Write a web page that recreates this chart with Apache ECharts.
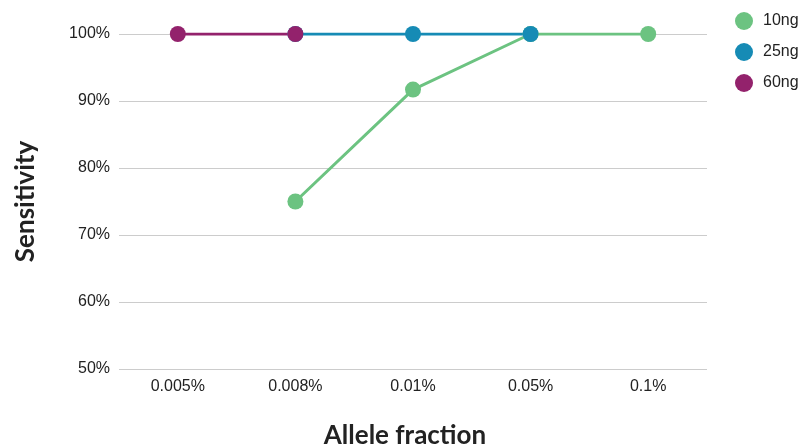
<!DOCTYPE html>
<html><head><meta charset="utf-8">
<script src="https://cdn.jsdelivr.net/npm/echarts@6/dist/echarts.min.js"></script>
<style>html,body{margin:0;padding:0;background:#fff}#c{width:803px;height:448px}</style>
</head><body><div id="c"></div>
<script>
const categories = ['0.005%', '0.008%', '0.01%', '0.05%', '0.1%'];
const s10ng = [null, 75, 91.7, 100, 100];
const s25ng = [null, 100, 100, 100, null];
const s60ng = [100, 100, null, null, null];
const seriesNames = ['10ng', '25ng', '60ng'];
const colors = ['#6cc381', '#168bb5', '#93226c'];

const chart = echarts.init(document.getElementById('c'), null, {renderer: 'canvas'});
const mk = (name, data, color) => ({
  name, type: 'line', data, color,
  symbol: 'circle', symbolSize: 16,
  lineStyle: {width: 3, color},
  itemStyle: {color},
  connectNulls: false,
  animation: false
});
chart.setOption({
  animation: false,
  grid: {left: 119, right: 96, top: 34, bottom: 79, outerBoundsMode: 'none', containLabel: false},
  legend: {
    orient: 'vertical', left: 735, top: 12, padding: 0,
    icon: 'circle', itemWidth: 18, itemHeight: 18, itemGap: 13,
    data: seriesNames,
    textStyle: {fontFamily: 'Liberation Sans', fontSize: 16, color: '#222', padding: [0, 0, 0, 5]}
  },
  xAxis: {
    type: 'category', data: categories, boundaryGap: true,
    name: 'Allele fraction', nameLocation: 'middle', nameGap: 54,
    nameTextStyle: {fontFamily: 'Lato', fontWeight: 'bold', fontSize: 26, color: '#222', padding: [0, 16, 0, 0]},
    axisLine: {show: false}, axisTick: {show: false},
    axisLabel: {fontFamily: 'Liberation Sans', fontSize: 16, color: '#222', margin: 10}
  },
  yAxis: {
    type: 'value', min: 50, max: 100, interval: 10,
    name: 'Sensitivity', nameLocation: 'middle', nameGap: 80, nameRotate: 90,
    nameTextStyle: {fontFamily: 'Lato', fontWeight: 'bold', fontSize: 26, color: '#222'},
    axisLabel: {formatter: '{value}%', fontFamily: 'Liberation Sans', fontSize: 16, color: '#222', margin: 9},
    splitLine: {lineStyle: {color: '#cccccc', width: 1}},
    axisLine: {show: false}, axisTick: {show: false}
  },
  series: [
    mk('10ng', s10ng, colors[0]),
    mk('25ng', s25ng, colors[1]),
    mk('60ng', s60ng, colors[2])
  ]
});
</script></body></html>
